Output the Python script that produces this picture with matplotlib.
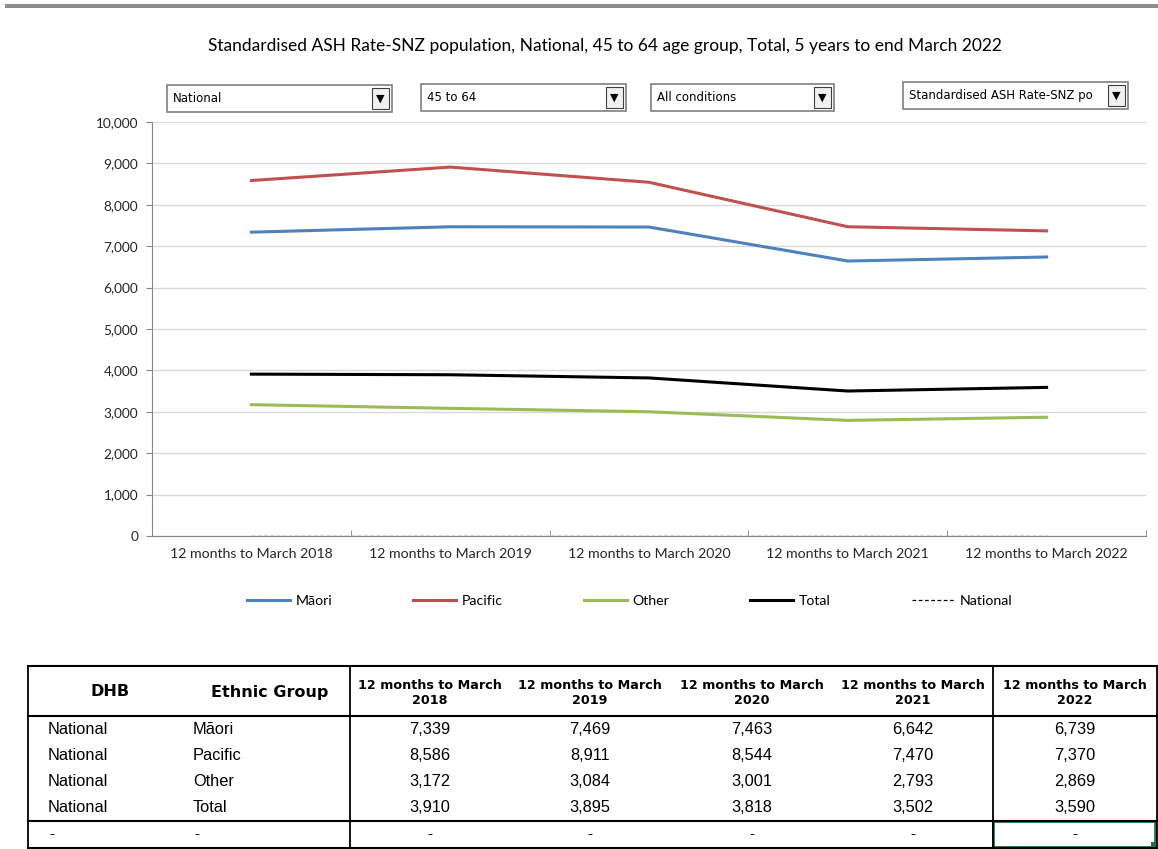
import numpy as np
import matplotlib
matplotlib.use("Agg")
import matplotlib.pyplot as plt
from matplotlib.patches import Rectangle

# data
periods = ["12 months to March 2018", "12 months to March 2019", "12 months to March 2020",
           "12 months to March 2021", "12 months to March 2022"]
years = ["2018", "2019", "2020", "2021", "2022"]
maori = [7339, 7469, 7463, 6642, 6739]
pacific = [8586, 8911, 8544, 7470, 7370]
other = [3172, 3084, 3001, 2793, 2869]
total = [3910, 3895, 3818, 3502, 3590]
national = [0, 0, 0, 0, 0]
dropdowns = ["National", "45 to 64", "All conditions", "Standardised ASH Rate-SNZ po"]
title = "Standardised ASH Rate-SNZ population, National, 45 to 64 age group, Total, 5 years to end March 2022"

W, H = 1158, 849
fig = plt.figure(figsize=(W / 100, H / 100), dpi=100)
chart_font = "Lato"

# overlay axes in pixel coordinates for the decorations and the table
ov = fig.add_axes([0, 0, 1, 1])
ov.set_xlim(0, W)
ov.set_ylim(H, 0)
ov.axis("off")

ax = fig.add_axes([152 / W, 1 - 536 / H, (1146 - 152) / W, (536 - 122) / H])
x = np.arange(len(periods))
ax.plot(x, maori, color="#4F81BD", lw=2.2, label="Māori")
ax.plot(x, pacific, color="#C0504D", lw=2.2, label="Pacific")
ax.plot(x, other, color="#9BBB59", lw=2.2, label="Other")
ax.plot(x, total, color="black", lw=2.2, label="Total")
ax.plot(x, national, color="black", lw=0.9, ls=(0, (3, 2)), label="National")

ax.set_xlim(-0.5, len(periods) - 0.5)
ax.set_ylim(0, 10000)
ax.set_yticks(np.arange(0, 10001, 1000))
ax.yaxis.set_major_formatter(matplotlib.ticker.FuncFormatter(lambda v, p: f"{int(v):,}"))
ax.yaxis.grid(True, color="#D9D9D9", lw=1)
ax.set_axisbelow(True)
ax.set_xticks(x)
ax.set_xticklabels(periods)
ax.set_xticks(np.arange(-0.5, len(periods)), minor=True)
ax.tick_params(axis="x", which="major", length=0, pad=9, labelsize=10.2, labelcolor="#262626")
ax.tick_params(axis="x", which="minor", length=4, color="#868686", direction="in")
ax.tick_params(axis="y", length=4, color="#868686", labelsize=9.8, labelcolor="#262626", pad=6)
for lab in ax.get_xticklabels() + ax.get_yticklabels():
    lab.set_fontfamily(chart_font)
for s in ["top", "right"]:
    ax.spines[s].set_visible(False)
ax.spines["left"].set_color("#868686")
ax.spines["bottom"].set_color("#868686")

leg = fig.legend(loc="center", bbox_to_anchor=(630 / W, 1 - 601 / H), ncol=5, frameon=False,
                 prop={"family": chart_font, "size": 10.2}, handlelength=3.0, handletextpad=0.4,
                 columnspacing=5.75)

# top grey bar
ov.add_patch(Rectangle((5, 4), W - 5, 4, color="#8C8C8C", lw=0))
ov.text(605, 46, title, ha="center", va="center", fontsize=12.5, fontfamily=chart_font, color="black")

# dropdown boxes
boxes = [(167, 85, 225, 27), (421, 84, 205, 27), (651, 84, 183, 27), (903, 82, 225, 27)]
for (bx, by, bw, bh), lbl in zip(boxes, dropdowns):
    ov.add_patch(Rectangle((bx, by), bw, bh, fill=False, ec="#7F7F7F", lw=1.2))
    ov.add_patch(Rectangle((bx + bw - 20, by + 3), 17, bh - 6, fc="#F0F0F0", ec="#404040", lw=0.8))
    ov.text(bx + bw - 11.5, by + bh / 2, "▼", ha="center", va="center", fontsize=8, color="black")
    ov.text(bx + 6, by + bh / 2, lbl, ha="left", va="center", fontsize=8.5,
            fontfamily="Liberation Sans Narrow")

# table
tx0, tx1 = 28, 1157
row_y = [666, 716, 743, 769, 795, 821, 848]
for yy in [666, 716, 821, 848]:
    ov.plot([tx0, tx1], [yy, yy], color="black", lw=1.5)
for xx in [tx0, 350, 993, tx1]:
    ov.plot([xx, xx], [666, 848], color="black", lw=1.3)
ov.add_patch(Rectangle((993, 821), 162, 26, fill=False, ec="#217346", lw=2))
ov.add_patch(Rectangle((1151, 842), 6, 6, color="#217346", lw=0))

tfont = "DejaVu Sans"
ov.text(110, 692, "DHB", ha="center", va="center", fontsize=11.5, fontweight="bold", fontfamily=tfont)
ov.text(270, 692, "Ethnic Group", ha="center", va="center", fontsize=11.5, fontweight="bold", fontfamily=tfont)
col_x = [430, 590, 752, 913, 1075]
for cx, yr in zip(col_x, years):
    ov.text(cx, 693, "12 months to March\n" + yr, ha="center", va="center", fontsize=9.2,
            fontweight="bold", fontfamily=tfont, linespacing=1.25)

groups = ["Māori", "Pacific", "Other", "Total"]
dfont = "Liberation Sans"
for i, (g, vals) in enumerate(zip(groups, [maori, pacific, other, total])):
    yc = (row_y[i + 1] + row_y[i + 2]) / 2
    ov.text(48, yc, "National", ha="left", va="center", fontsize=11.8, fontfamily=dfont)
    ov.text(193, yc, g, ha="left", va="center", fontsize=11.8, fontfamily=dfont)
    for cx, v in zip(col_x, vals):
        ov.text(cx, yc, f"{v:,}", ha="center", va="center", fontsize=11.8, fontfamily=dfont)
yc = (821 + 848) / 2
for cx in [52, 197] + col_x:
    ov.text(cx, yc, "-", ha="center", va="center", fontsize=11, fontfamily=dfont)

fig.savefig("out.png", dpi=100)
